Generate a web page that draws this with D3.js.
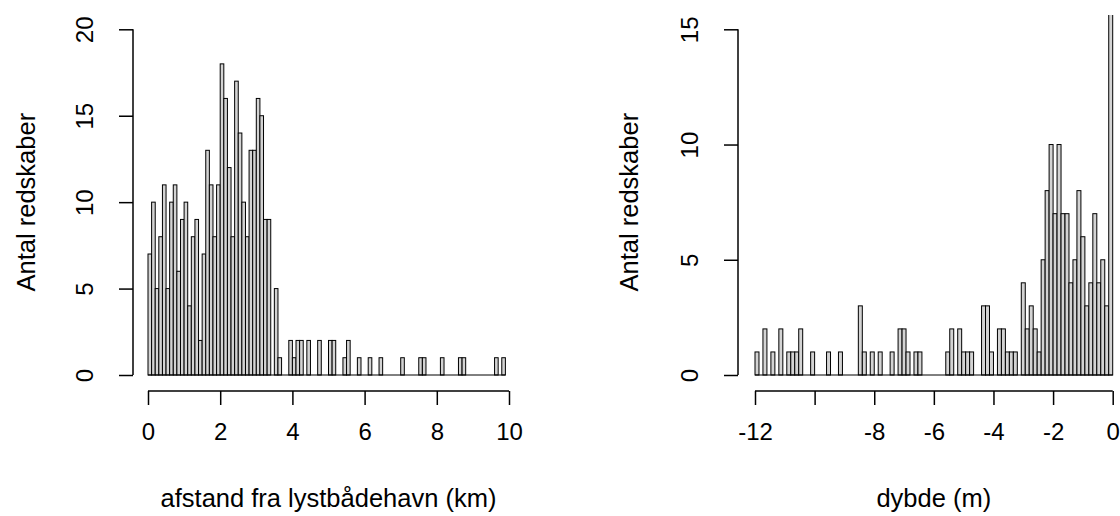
<!DOCTYPE html>
<html>
<head>
<meta charset="utf-8">
<script src="https://cdn.jsdelivr.net/npm/d3@7"></script>
<style>
body { margin: 0; background: #fff; }
text { font-family: "Liberation Sans", Arial, sans-serif; fill: #000; }
</style>
</head>
<body>
<div id="chart"></div>
<script>
"use strict";

// afstand fra lystbaadehavn: 0.1 km bins from 0
const afstandStart = 0;
const afstandStep = 0.1;
const afstandCounts = [
    7, 10, 5, 8, 11, 5, 10, 11, 6, 9,
    10, 4, 8, 9, 2, 7, 13, 11, 8, 11,
    18, 16, 12, 8, 17, 14, 10, 8, 13, 13,
    16, 15, 9, 9, 0, 5, 1, 0, 0, 2,
    1, 2, 2, 0, 2, 0, 0, 2, 0, 0,
    2, 2, 0, 0, 1, 2, 0, 0, 1, 0,
    0, 1, 0, 0, 1, 0, 0, 0, 0, 0,
    1, 0, 0, 0, 0, 1, 1, 0, 0, 0,
    0, 1, 0, 0, 0, 0, 1, 1, 0, 0,
    0, 0, 0, 0, 0, 0, 1, 0, 1
];
const afstandTicks = [0, 2, 4, 6, 8, 10];
const afstandYTicks = [0, 5, 10, 15, 20];

// dybde: 90 equal bins between -12 and 0
const dybdeStart = -12;
const dybdeStep = 12 / 90;
const dybdeCounts = [
    1, 0, 2, 0, 1, 0, 2, 0, 1, 1,
    1, 2, 0, 0, 1, 0, 0, 0, 1, 0,
    0, 1, 0, 0, 0, 0, 3, 1, 0, 1,
    0, 1, 0, 0, 1, 0, 2, 2, 1, 0,
    1, 1, 0, 0, 0, 0, 0, 0, 1, 2,
    0, 2, 1, 1, 1, 0, 0, 3, 3, 1,
    0, 2, 2, 1, 1, 1, 0, 4, 2, 3,
    2, 1, 5, 8, 10, 7, 10, 7, 7, 4,
    5, 8, 6, 3, 4, 7, 4, 5, 3, 16
];
const dybdeTicks = [-12, -10, -8, -6, -4, -2, 0];
const dybdeTickLabels = ["-12", "", "-8", "-6", "-4", "-2", "0"];
const dybdeYTicks = [0, 5, 10, 15];

const yTitle = "Antal redskaber";

const W = 1120, H = 516;
const fontSize = 24;
const titleSize = 25.5;

const leftPanel = {
    xDomain: [0, 10], xRange: [148, 509],
    yDomain: [0, 20], yRange: [375, 29.3],
    box: { x0: 133, x1: 524, y0: 15, y1: 389 },
    yAxisX: 133, xAxisY: 391,
    yLabelX: 28, xTitleY: 500
};
const rightPanel = {
    xDomain: [-12, 0], xRange: [755, 1112.7],
    yDomain: [0, 15], yRange: [375, 29.3],
    box: { x0: 738, x1: 1130, y0: 15, y1: 389 },
    yAxisX: 738, xAxisY: 391,
    yLabelX: 631, xTitleY: 500
};

const svg = d3.select("#chart").append("svg")
    .attr("width", W)
    .attr("height", H);

svg.append("rect").attr("width", W).attr("height", H).attr("fill", "#fff");

function makeBins(start, step, counts) {
    return counts.map((c, i) => ({ x0: start + i * step, x1: start + (i + 1) * step, n: c }));
}

function drawHist(p, bins, xTicks, xLabels, yTicks, xTitle, id) {
    let xScale = d3.scaleLinear().domain(p.xDomain).range(p.xRange);
    let yScale = d3.scaleLinear().domain(p.yDomain).range(p.yRange);

    // clip to plot region like R does
    svg.append("clipPath").attr("id", id)
        .append("rect")
        .attr("x", p.box.x0).attr("y", p.box.y0)
        .attr("width", p.box.x1 - p.box.x0).attr("height", p.box.y1 - p.box.y0);

    svg.append("g")
        .attr("clip-path", "url(#" + id + ")")
        .selectAll("rect")
        .data(bins.filter(d => d.n > 0))
        .enter()
        .append("rect")
        .attr("x", d => xScale(d.x0))
        .attr("y", d => yScale(d.n))
        .attr("width", d => xScale(d.x1) - xScale(d.x0))
        .attr("height", d => yScale(0) - yScale(d.n))
        .attr("fill", "#d3d3d3")
        .attr("stroke", "#000")
        .attr("stroke-width", 1);

    // baseline under empty bins
    svg.append("line")
        .attr("x1", xScale(bins[0].x0)).attr("x2", xScale(bins[bins.length - 1].x1))
        .attr("y1", yScale(0)).attr("y2", yScale(0))
        .attr("stroke", "#000").attr("stroke-width", 1);

    // x axis
    let xAxis = d3.axisBottom(xScale)
        .tickValues(xTicks)
        .tickSize(14)
        .tickPadding(18)
        .tickFormat((d, i) => xLabels[i]);
    let gx = svg.append("g")
        .attr("transform", "translate(0," + p.xAxisY + ")")
        .call(xAxis);
    gx.select(".domain").attr("d", "M" + xScale(xTicks[0]) + ",0H" + xScale(xTicks[xTicks.length - 1]));
    styleAxis(gx);

    // y axis, labels parallel to the axis
    let yAxis = d3.axisLeft(yScale)
        .tickValues(yTicks)
        .tickSize(14);
    let gy = svg.append("g")
        .attr("transform", "translate(" + p.yAxisX + ",0)")
        .call(yAxis);
    gy.select(".domain").attr("d", "M0," + yScale(yTicks[0]) + "V" + yScale(yTicks[yTicks.length - 1]));
    styleAxis(gy);
    gy.selectAll(".tick text")
        .attr("x", null).attr("dy", null)
        .attr("text-anchor", "middle")
        .attr("transform", "translate(-40,0) rotate(-90)");

    svg.append("text")
        .attr("x", (p.xRange[0] + p.xRange[1]) / 2)
        .attr("y", p.xTitleY)
        .attr("text-anchor", "middle")
        .attr("dominant-baseline", "middle")
        .style("font-size", titleSize + "px")
        .text(xTitle);

    svg.append("text")
        .attr("transform", "translate(" + p.yLabelX + "," + (p.yRange[0] + p.yRange[1]) / 2 + ") rotate(-90)")
        .attr("text-anchor", "middle")
        .attr("dominant-baseline", "middle")
        .style("font-size", titleSize + "px")
        .text(yTitle);
}

function styleAxis(g) {
    g.select(".domain").attr("stroke", "#000").attr("stroke-width", 1.5).attr("fill", "none");
    g.selectAll(".tick line").attr("stroke", "#000").attr("stroke-width", 1.5);
    g.selectAll(".tick text")
        .attr("fill", "#000")
        .style("font-size", fontSize + "px")
        .style("font-family", "'Liberation Sans', Arial, sans-serif");
}

drawHist(leftPanel, makeBins(afstandStart, afstandStep, afstandCounts),
    afstandTicks, afstandTicks.map(String), afstandYTicks,
    "afstand fra lystbådehavn (km)", "clipL");

drawHist(rightPanel, makeBins(dybdeStart, dybdeStep, dybdeCounts),
    dybdeTicks, dybdeTickLabels, dybdeYTicks,
    "dybde (m)", "clipR");
</script>
</body>
</html>
